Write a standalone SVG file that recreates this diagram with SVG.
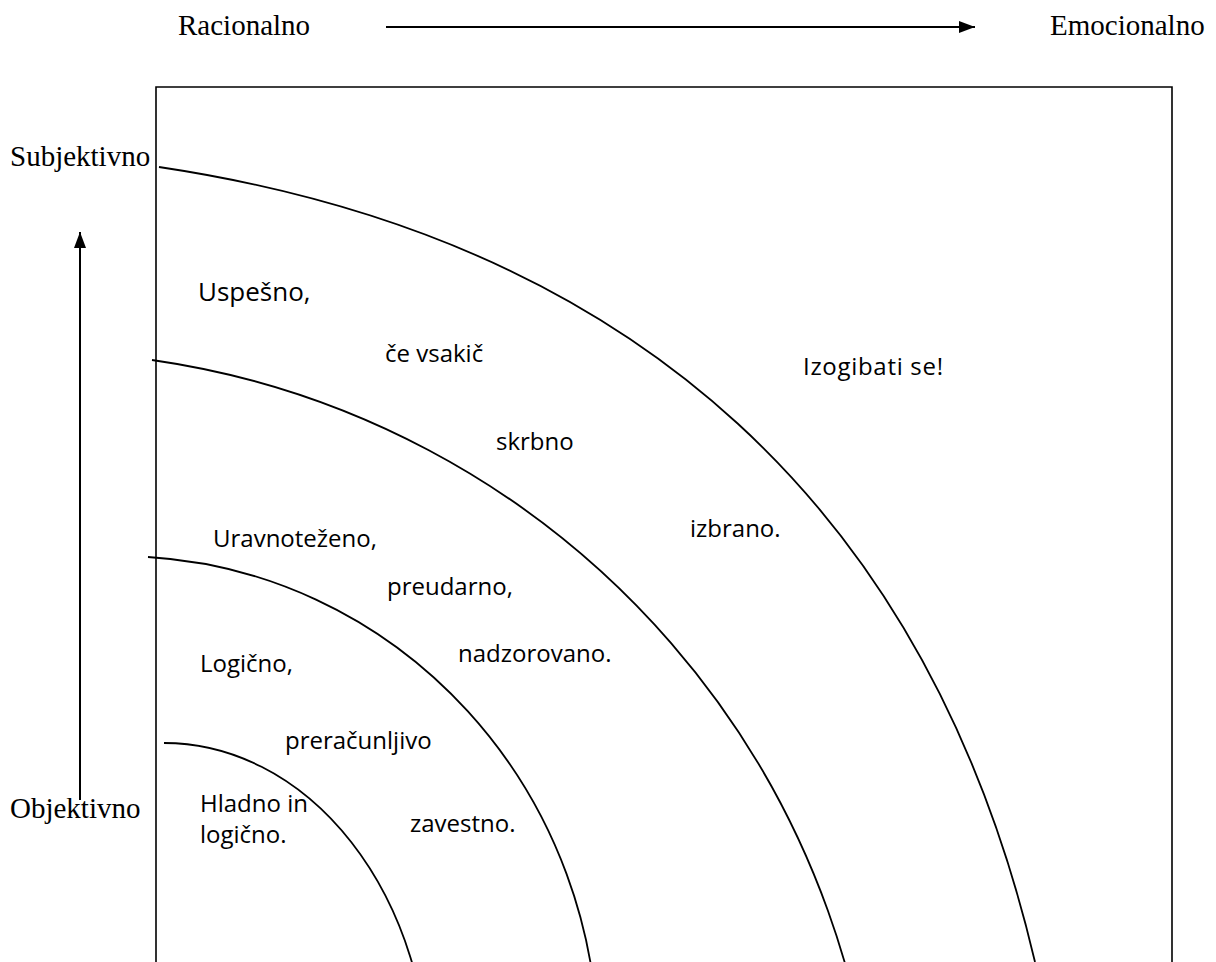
<svg xmlns="http://www.w3.org/2000/svg" width="1216" height="962" viewBox="0 0 1216 962">
<defs>
<marker id="ah" viewBox="0 0 16 12" refX="16" refY="6" markerWidth="16" markerHeight="12" markerUnits="userSpaceOnUse" orient="auto">
<path d="M0,0 L16,6 L0,12 Z" fill="#000"/>
</marker>
<style>
.serif{font-family:"Liberation Serif","Times New Roman",serif;font-size:29px;fill:#000}
.sans{font-family:"Open Sans","Noto Sans",sans-serif;font-size:24px;fill:#000}
.big{font-size:26px}
.arc{fill:none;stroke:#000;stroke-width:1.8}
.frame{fill:none;stroke:#000;stroke-width:1.6}
.axis{fill:none;stroke:#000;stroke-width:2}
</style>
</defs>
<rect width="1216" height="962" fill="#fff"/>
<g id="axis-labels">
<text class="serif" x="178" y="35">Racionalno</text>
<text class="serif" x="1050" y="35">Emocionalno</text>
<text class="serif" x="10" y="166">Subjektivno</text>
<text class="serif" x="10" y="818">Objektivno</text>
</g>
<g id="frame">
<path class="frame" d="M156,962 V87 H1172 V962"/>
</g>
<g id="connectors">
<line class="axis" x1="386" y1="27" x2="975" y2="27" marker-end="url(#ah)"/>
<line class="axis" x1="80" y1="800" x2="80" y2="232" marker-end="url(#ah)"/>
<path class="arc" d="M159,167 C639,239 930,514 1035,962"/>
<path class="arc" d="M152,360 A846,846 0 0 1 878,1197"/>
<path class="arc" d="M148,557 A478,494 0 0 1 598,1050"/>
<path class="arc" d="M164,743 A265,339 0 0 1 429,1082"/>
</g>
<g id="zone-outer">
<text class="sans" x="803" y="375" textLength="140">Izogibati se!</text>
</g>
<g id="zone-3">
<text class="sans big" x="198" y="301">Uspešno,</text>
<text class="sans" x="385" y="362">če vsakič</text>
<text class="sans" x="496" y="450">skrbno</text>
<text class="sans" x="690" y="537">izbrano.</text>
</g>
<g id="zone-2">
<text class="sans" x="213" y="547">Uravnoteženo,</text>
<text class="sans" x="387" y="595">preudarno,</text>
<text class="sans" x="458" y="662">nadzorovano.</text>
</g>
<g id="zone-1">
<text class="sans" x="200" y="672">Logično,</text>
<text class="sans" x="285" y="749">preračunljivo</text>
<text class="sans" x="410" y="832">zavestno.</text>
</g>
<g id="zone-core">
<text class="sans" x="200" y="812">Hladno in</text>
<text class="sans" x="200" y="843">logično.</text>
</g>
</svg>
